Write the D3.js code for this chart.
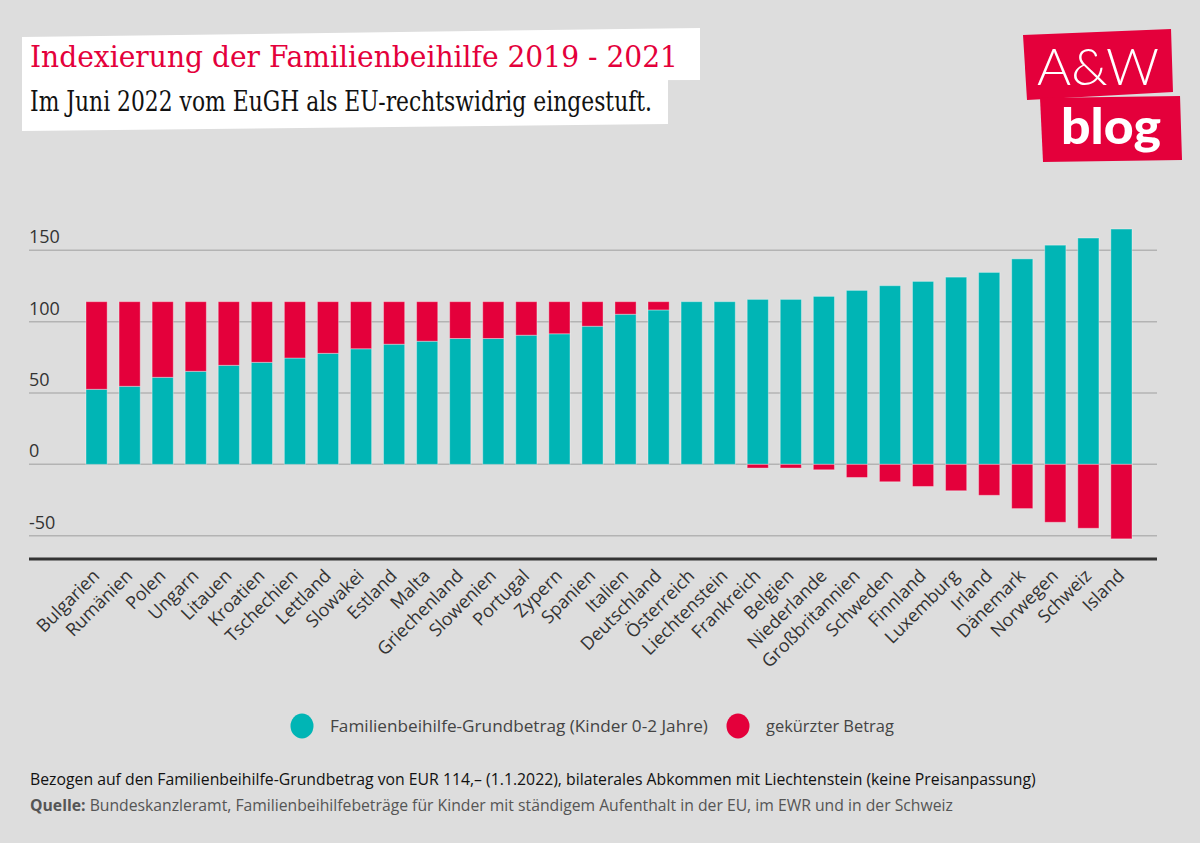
<!DOCTYPE html>
<html><head><meta charset="utf-8">
<script src="https://cdn.jsdelivr.net/npm/d3@7"></script>
<style>
html,body{margin:0;padding:0;background:#dddddd;}
svg{display:block;}
</style></head>
<body>
<svg id="c" width="1200" height="843"></svg>
<script>
// ---- data ----
const countries = ["Bulgarien","Rumänien","Polen","Ungarn","Litauen","Kroatien","Tschechien","Lettland","Slowakei","Estland","Malta","Griechenland","Slowenien","Portugal","Zypern","Spanien","Italien","Deutschland","Österreich","Liechtenstein","Frankreich","Belgien","Niederlande","Großbritannien","Schweden","Finnland","Luxemburg","Irland","Dänemark","Norwegen","Schweiz","Island"];
const grundbetrag = [52.6,54.7,61.0,65.2,69.4,71.5,74.5,77.8,81.0,84.2,86.3,88.2,88.2,90.5,91.5,96.8,105.2,108.2,114,114,115.6,115.6,117.7,121.9,125.2,128.2,131.2,134.5,144.0,153.6,158.6,164.9];
const gekuerzt = [61.4,59.3,53.0,48.8,44.6,42.5,39.5,36.2,33.0,29.8,27.7,25.8,25.8,23.5,22.5,17.2,8.8,5.8,0,0,-2.6,-2.6,-3.8,-9.2,-12.2,-15.5,-18.5,-21.7,-31.0,-40.6,-44.8,-52.2];
const yTicks = [-50,0,50,100,150];
const seriesNames = ["Familienbeihilfe-Grundbetrag (Kinder 0-2 Jahre)","gekürzter Betrag"];
const colors = ["#00b5b5","#e4003b"];
const title = "Indexierung der Familienbeihilfe 2019 - 2021";
const subtitle = "Im Juni 2022 vom EuGH als EU-rechtswidrig eingestuft.";
const note = "Bezogen auf den Familienbeihilfe-Grundbetrag von EUR 114,– (1.1.2022), bilaterales Abkommen mit Liechtenstein (keine Preisanpassung)";
const sourceLabel = "Quelle:";
const sourceText = " Bundeskanzleramt, Familienbeihilfebeträge für Kinder mit ständigem Aufenthalt in der EU, im EWR und in der Schweiz";

const svg = d3.select("#c");
const sans = "'Open Sans','Noto Sans',sans-serif";

function fit(sel, w){
  const n = sel.node();
  const cur = n.getComputedTextLength();
  const fs = parseFloat(sel.attr("font-size"));
  sel.attr("font-size", (fs*w/cur).toFixed(2));
}

// ---- header ----
svg.append("polygon").attr("points","22,37 700,28 700,80 22,82").attr("fill","#fff");
svg.append("polygon").attr("points","22,80 668,80 668,124 22,131").attr("fill","#fff");
svg.append("text").attr("x",30).attr("y",67).attr("font-family","'DejaVu Serif',serif")
  .attr("font-size",30).attr("fill","#e4003b").attr("textLength",648).attr("lengthAdjust","spacingAndGlyphs").text(title);
svg.append("text").attr("x",30).attr("y",111).attr("font-family","'DejaVu Serif',serif")
  .attr("font-size",27).attr("fill","#111").attr("textLength",622).attr("lengthAdjust","spacingAndGlyphs").text(subtitle);

// logo
svg.append("polygon").attr("points","1023,35 1171,29 1173,92 1027,100").attr("fill","#e4003b");
svg.append("polygon").attr("points","1040,98 1180,96 1182,160 1043,162").attr("fill","#e4003b");
svg.append("text").attr("x",1037).attr("y",85).attr("font-family","Lato,sans-serif").attr("font-weight",300)
  .attr("font-size",52).attr("fill","#fff").attr("textLength",122).attr("lengthAdjust","spacingAndGlyphs").text("A&W");
svg.append("text").attr("x",1061).attr("y",144).attr("font-family","Lato,sans-serif").attr("font-weight",900)
  .attr("font-size",50).attr("fill","#fff").attr("textLength",100).attr("lengthAdjust","spacingAndGlyphs").text("blog");

// ---- scales ----
const x = d3.scaleBand().domain(countries).range([86,1132]).paddingInner(0.36).paddingOuter(0);
const y = d3.scaleLinear().domain([-50,150]).range([535.7,250.3]);

// grid
const g = svg.append("g");
g.selectAll("line.grid").data(yTicks).join("line").attr("class","grid")
  .attr("x1",29).attr("x2",1157).attr("y1",d=>y(d)).attr("y2",d=>y(d))
  .attr("stroke","#b3b3b3").attr("stroke-width",1.5);
g.selectAll("text.yt").data(yTicks).join("text").attr("class","yt")
  .attr("x",29).attr("y",d=>y(d)-7).attr("font-family",sans).attr("font-size",18).attr("fill","#333")
  .text(d=>d);

// stacked bars
const rows = countries.map((c,i)=>({c, a:grundbetrag[i], b:gekuerzt[i]}));
const stack = d3.stack().keys(["a","b"]).offset(d3.stackOffsetDiverging);
const series = stack(rows);
svg.append("g").selectAll("g").data(series).join("g").attr("fill",(d,i)=>colors[i])
  .selectAll("rect").data(d=>d).join("rect")
  .attr("x",d=>x(d.data.c)).attr("width",x.bandwidth())
  .attr("y",d=>y(Math.max(d[0],d[1]))).attr("height",d=>Math.abs(y(d[0])-y(d[1])))
  .attr("stroke","rgba(255,255,255,0.35)").attr("stroke-width",1);

// baseline
svg.append("line").attr("x1",29).attr("x2",1157).attr("y1",559).attr("y2",559).attr("stroke","#333").attr("stroke-width",3);

// x labels
svg.append("g").selectAll("text").data(countries).join("text")
  .attr("transform",d=>`translate(${x(d)+x.bandwidth()/2+4},${577}) rotate(-45)`)
  .attr("text-anchor","end").attr("font-family",sans).attr("font-size",18).attr("fill","#333")
  .text(d=>d);

// legend
const lg = svg.append("g");
const lx = [302,738];
seriesNames.forEach((n,i)=>{
  lg.append("ellipse").attr("cx",lx[i]).attr("cy",726).attr("rx",11.5).attr("ry",12.5).attr("fill",colors[i]);
  const t = lg.append("text").attr("x",lx[i]+28).attr("y",732).attr("font-family",sans).attr("font-size",16).attr("fill","#444").text(n);
  fit(t, i===0 ? 378 : 128);
});

// notes
const t1 = svg.append("text").attr("x",30).attr("y",785).attr("font-family",sans).attr("font-size",15).attr("fill","#111").text(note);
fit(t1,1006);
const t2 = svg.append("text").attr("x",30).attr("y",811).attr("font-family",sans).attr("font-size",15).attr("fill","#555");
t2.append("tspan").attr("font-weight",700).text(sourceLabel);
t2.append("tspan").text(sourceText);
fit(t2,923);
</script>
</body></html>
